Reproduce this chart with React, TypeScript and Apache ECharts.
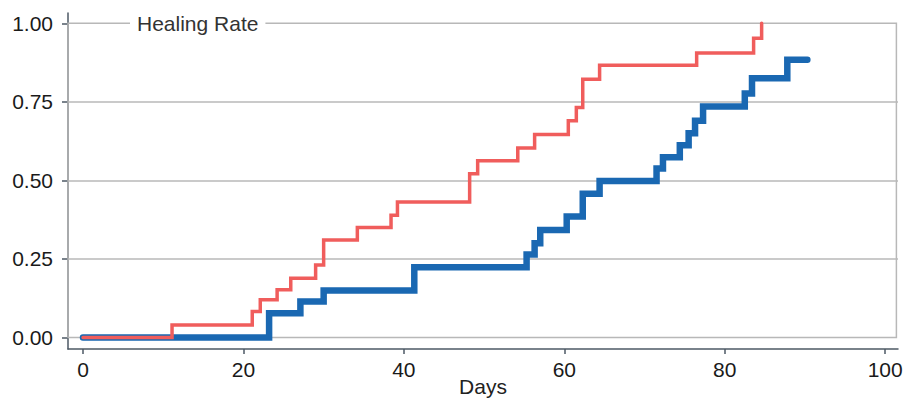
import React, { useEffect, useRef } from "react";
import * as echarts from "echarts";

const redDays = [0, 11.1, 21.1, 22.1, 24.2, 25.9, 29.0, 30.0, 34.2, 38.4, 39.2, 48.2, 49.2, 54.2, 56.3, 60.5, 61.5, 62.3, 64.4, 76.5, 83.6, 84.6];
const redRates = [0, 0.04, 0.083, 0.12, 0.152, 0.189, 0.231, 0.31, 0.35, 0.389, 0.431, 0.521, 0.563, 0.603, 0.646, 0.69, 0.732, 0.822, 0.867, 0.906, 0.953, 1.0];

const blueDays = [0, 23.2, 27.1, 30.0, 41.3, 55.3, 56.3, 57.0, 60.3, 62.3, 64.4, 71.5, 72.3, 74.4, 75.5, 76.3, 77.3, 82.5, 83.4, 87.8, 90.3];
const blueRates = [0, 0.077, 0.115, 0.15, 0.224, 0.264, 0.3, 0.342, 0.385, 0.458, 0.498, 0.538, 0.574, 0.612, 0.65, 0.69, 0.735, 0.777, 0.825, 0.884, 0.884];

const xTicks = [0, 20, 40, 60, 80, 100];
const yTicks = [0, 0.25, 0.5, 0.75, 1.0];
const gridValues = [0.25, 0.5, 0.75];

const FONT = "'Liberation Sans', Arial, Helvetica, sans-serif";
const AXIS = "#4d5964";
const GRID = "#b8b8b8";

export default function App() {
  const ref = useRef<HTMLDivElement>(null);
  useEffect(() => {
    if (!ref.current) return;
    const chart = echarts.init(ref.current, null, { renderer: "svg" });
    const toPairs = (xs: number[], ys: number[]) => xs.map((x, i) => [x, ys[i]]);
    chart.setOption({
      animation: false,
      backgroundColor: "#ffffff",
      title: {
        text: "Healing Rate",
        left: 130,
        top: 12,
        padding: [1, 7, 1, 7],
        backgroundColor: "#ffffff",
        z: 10,
        textStyle: { fontFamily: FONT, fontSize: 21, fontWeight: "normal", color: "#333333" },
      },
      grid: { left: 68, right: 10, top: 13, bottom: 52, outerBoundsMode: "none", containLabel: false },
      xAxis: {
        type: "value",
        min: -1.87,
        max: 101.6,
        name: "Days",
        nameLocation: "middle",
        nameGap: 27,
        nameMoveOverlap: false,
        nameTextStyle: { fontFamily: FONT, fontSize: 21, color: "#222222", verticalAlign: "top" },
        axisLine: { show: true, onZero: false, lineStyle: { color: AXIS, width: 1.5 } },
        axisTick: { show: true, length: 5, customValues: xTicks, lineStyle: { color: AXIS, width: 1.5 } },
        axisLabel: {
          customValues: xTicks,
          margin: 10,
          fontFamily: FONT,
          fontSize: 21,
          color: "#1a1a1a",
        },
        splitLine: { show: false },
      },
      yAxis: {
        type: "value",
        min: -0.0366,
        max: 1.033,
        axisLine: { show: true, onZero: false, lineStyle: { color: AXIS, width: 1.5 } },
        axisTick: { show: true, length: 6, customValues: yTicks, lineStyle: { color: AXIS, width: 1.5 } },
        axisLabel: {
          customValues: yTicks,
          margin: 15,
          fontFamily: FONT,
          fontSize: 21,
          color: "#1a1a1a",
          formatter: (v: number) => v.toFixed(2),
        },
        splitLine: { show: false },
      },
      series: [
        {
          type: "line",
          name: "frame",
          data: [],
          z: 1,
          markArea: {
            silent: true,
            z: 1,
            itemStyle: { color: "rgba(0,0,0,0)", borderColor: GRID, borderWidth: 1.5 },
            data: [[{ xAxis: -1.87, yAxis: 0 }, { xAxis: 101.4, yAxis: 1 }]],
          },
          markLine: {
            silent: true,
            z: 1,
            symbol: "none",
            label: { show: false },
            lineStyle: { color: GRID, width: 1.5, type: "solid" },
            data: gridValues.map((v) => ({ yAxis: v })),
          },
        },
        {
          type: "line",
          name: "blue",
          step: "end",
          showSymbol: false,
          data: toPairs(blueDays, blueRates),
          lineStyle: { color: "#1a68b2", width: 6.5, cap: "round", join: "miter" },
          z: 3,
        },
        {
          type: "line",
          name: "red",
          step: "end",
          showSymbol: false,
          data: toPairs(redDays, redRates),
          lineStyle: { color: "#f05d5c", width: 3.5, cap: "round", join: "miter" },
          z: 4,
        },
      ],
    });
    return () => chart.dispose();
  }, []);
  return <div ref={ref} style={{ position: "fixed", left: 0, top: 0, width: 908, height: 401 }} />;
}
